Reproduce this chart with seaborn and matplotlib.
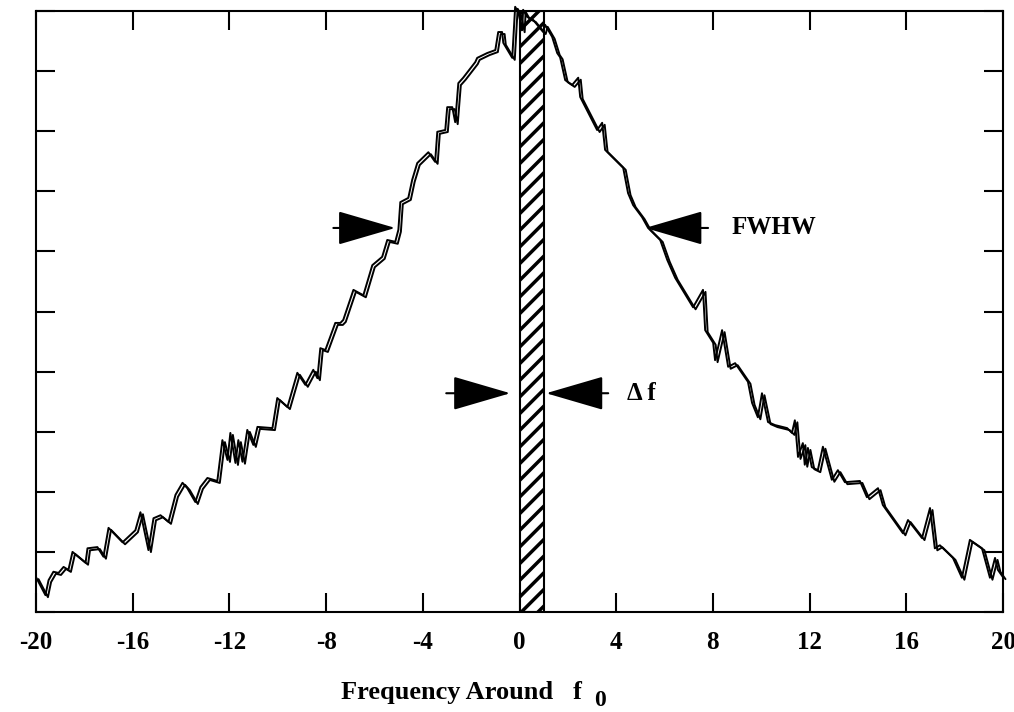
import matplotlib
matplotlib.use("Agg")
import matplotlib.pyplot as plt
import matplotlib.transforms as mtransforms
import seaborn as sns
import pandas as pd

# ---- data ----
freq = [-20.0, -19.61, -19.48, -19.28, -19.07, -18.86, -18.66, -18.49, -17.95, -17.87,
        -17.46, -17.21, -17.00, -16.42, -15.89, -15.68, -15.35, -15.14, -14.85, -14.52,
        -14.23, -13.94, -13.74, -13.41, -13.20, -12.91, -12.50, -12.29, -12.08, -11.96,
        -11.75, -11.63, -11.46, -11.26, -11.01, -10.84, -10.22, -10.02, -9.60, -9.19,
        -8.86, -8.53, -8.36, -8.24, -8.03, -7.62, -7.41, -7.29, -6.87, -6.46,
        -6.09, -5.68, -5.47, -5.14, -5.01, -4.93, -4.60, -4.44, -4.23, -3.77,
        -3.49, -3.40, -3.07, -2.99, -2.78, -2.66, -2.53, -2.33, -1.83, -1.75,
        -1.34, -1.00, -0.88, -0.72, -0.67, -0.30, -0.18, -0.05, 0.11, 0.15,
        0.32, 0.57, 0.98, 1.06, 1.35, 1.56, 1.68, 1.89, 2.18, 2.43,
        2.51, 3.21, 3.42, 3.54, 4.29, 4.49, 4.70, 5.07, 5.32, 5.82,
        6.11, 6.44, 7.18, 7.59, 7.68, 8.01, 8.09, 8.38, 8.63, 8.92,
        9.45, 9.62, 9.86, 10.03, 10.28, 10.57, 11.07, 11.27, 11.39, 11.52,
        11.72, 11.80, 11.93, 12.09, 12.34, 12.55, 12.92, 13.17, 13.46, 14.08,
        14.37, 14.83, 15.03, 15.86, 16.07, 16.65, 16.98, 17.18, 17.39, 17.93,
        18.30, 18.63, 19.13, 19.46, 19.67, 19.79, 20.0]
power = [0.58, 0.28, 0.53, 0.67, 0.65, 0.75, 0.70, 1.00, 0.82, 1.06,
         1.08, 0.92, 1.40, 1.16, 1.36, 1.66, 1.03, 1.56, 1.61, 1.50,
         1.95, 2.15, 2.06, 1.83, 2.08, 2.23, 2.18, 2.86, 2.53, 2.98,
         2.48, 2.86, 2.50, 3.03, 2.78, 3.08, 3.06, 3.56, 3.41, 3.98,
         3.78, 4.03, 3.89, 4.39, 4.36, 4.81, 4.81, 4.86, 5.36, 5.27,
         5.77, 5.91, 6.19, 6.16, 6.36, 6.82, 6.89, 7.19, 7.47, 7.65,
         7.49, 7.99, 8.02, 8.40, 8.40, 8.15, 8.80, 8.89, 9.15, 9.22,
         9.30, 9.35, 9.65, 9.65, 9.47, 9.22, 10.07, 9.98, 9.68, 10.02,
         9.90, 9.85, 9.65, 9.77, 9.57, 9.30, 9.23, 8.85, 8.77, 8.89,
         8.57, 8.02, 8.14, 7.69, 7.39, 6.97, 6.77, 6.57, 6.39, 6.19,
         5.86, 5.56, 5.07, 5.36, 4.69, 4.48, 4.19, 4.69, 4.08, 4.14,
         3.83, 3.48, 3.24, 3.64, 3.16, 3.11, 3.06, 2.98, 3.19, 2.58,
         2.81, 2.45, 2.73, 2.41, 2.36, 2.75, 2.20, 2.36, 2.16, 2.18,
         1.91, 2.06, 1.78, 1.31, 1.53, 1.23, 1.73, 1.06, 1.11, 0.90,
         0.57, 1.20, 1.06, 0.57, 0.90, 0.70, 0.58]

x_ticks = [-20, -16, -12, -8, -4, 0, 4, 8, 12, 16, 20]
x_tick_labels = ["-20", "-16", "-12", "-8", "-4", "0", "4", "8", "12", "16", "20"]
y_ticks = [0, 1, 2, 3, 4, 5, 6, 7, 8, 9, 10]

band_left = [0.0]
band_width = [1.0]
band_height = [10.0]

fwhw_left = (-7.70, -5.14)    # (tail, tip)
fwhw_right = (7.80, 5.20)
fwhw_level = 6.39
df_left = (-3.03, -0.38)
df_right = (3.67, 1.10)
df_level = 3.64

# ---- style ----
sns.set_style("ticks")
plt.rcParams["font.family"] = ["Liberation Serif", "DejaVu Serif"]
plt.rcParams["font.weight"] = "bold"
plt.rcParams["hatch.linewidth"] = 2.5
plt.rcParams["axes.linewidth"] = 1.5
plt.rcParams["text.color"] = "black"
plt.rcParams["xtick.color"] = "black"
plt.rcParams["ytick.color"] = "black"
plt.rcParams["axes.labelcolor"] = "black"

fig = plt.figure(figsize=(10.14, 7.12), dpi=100)
ax = fig.add_axes([36 / 1014, 100 / 712, 967 / 1014, 601 / 712])

df = pd.DataFrame({"freq": freq, "power": power})

ax.bar(band_left, band_height, width=band_width, align="edge",
       facecolor="white", edgecolor="black", hatch="//", linewidth=1.5, zorder=1)

sns.lineplot(data=df, x="freq", y="power", ax=ax, color="black", lw=1.4,
             sort=False, estimator=None, clip_on=False, zorder=3)
off = mtransforms.offset_copy(ax.transData, fig=fig, x=2.5, y=-2.0, units="dots")
sns.lineplot(data=df, x="freq", y="power", ax=ax, color="black", lw=1.4,
             sort=False, estimator=None, clip_on=False, zorder=3, transform=off)

ax.set_xlim(-20, 20)
ax.set_ylim(0, 10)
ax.set_xticks(x_ticks)
ax.set_xticklabels(x_tick_labels, fontsize=18, fontweight="bold", color="black")
ax.set_yticks(y_ticks)
ax.set_yticklabels([])
ax.tick_params(axis="both", direction="in", length=14, width=1.5,
               top=True, right=True, color="black", labelcolor="black")
ax.tick_params(axis="x", pad=14)
for s in ax.spines.values():
    s.set_visible(True)
    s.set_color("black")
    s.set_linewidth(1.5)
ax.set_ylabel("")

arrow_style = "-|>,head_length=3.7,head_width=1.08"
for tail, tip, lvl in [(fwhw_left[0], fwhw_left[1], fwhw_level),
                       (fwhw_right[0], fwhw_right[1], fwhw_level),
                       (df_left[0], df_left[1], df_level),
                       (df_right[0], df_right[1], df_level)]:
    ax.annotate("", xy=(tip, lvl), xytext=(tail, lvl),
                arrowprops=dict(arrowstyle=arrow_style, mutation_scale=10,
                                color="black", lw=1.5, shrinkA=0, shrinkB=0),
                zorder=4)

ax.text(8.79, fwhw_level, "FWHW", fontsize=18, fontweight="bold",
        ha="left", va="center", color="black")
ax.text(4.45, df_level, "Δ f", fontsize=18, fontweight="bold",
        ha="left", va="center", color="black")

ax.set_xlabel("Frequency Around   f", fontsize=19, fontweight="bold", color="black")
ax.xaxis.set_label_coords((461 - 36) / 967, (612 - 692) / 601)
ax.xaxis.label.set_va("center")
fig.text(600 / 1014, (712 - 700) / 712, "0", fontsize=17, fontweight="bold",
         ha="center", va="center", color="black")

fig.savefig("out.png", dpi=100)
